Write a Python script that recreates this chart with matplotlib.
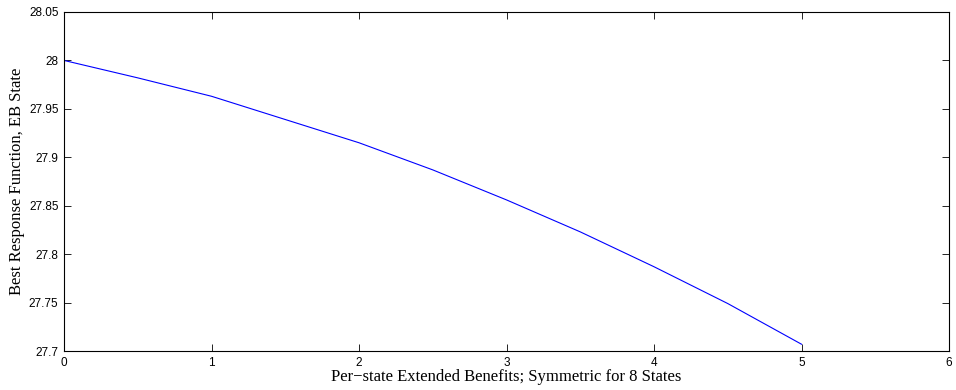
import numpy as np
import matplotlib.pyplot as plt

# benefit level (x) and best response of the EB state (y)
benefits = [0, 0.5, 1, 1.5, 2, 2.5, 3, 3.5, 4, 4.5, 5]
best_response = [28.0, 27.982, 27.963, 27.939, 27.915, 27.887,
                 27.856, 27.823, 27.787, 27.749, 27.707]

x_ticks = [0, 1, 2, 3, 4, 5, 6]
y_ticks = [27.7, 27.75, 27.8, 27.85, 27.9, 27.95, 28.0, 28.05]
y_tick_labels = ['27.7', '27.75', '27.8', '27.85', '27.9', '27.95', '28', '28.05']

fig = plt.figure(figsize=(9.56, 3.9), dpi=100)
ax = fig.add_axes([64 / 956, 1 - 351 / 390, 885 / 956, 339 / 390])

ax.plot(benefits, best_response, color='#0000ff', lw=0.8)

ax.set_xlim(0, 6)
ax.set_ylim(27.7, 28.05)
ax.set_xticks(x_ticks)
ax.set_xticklabels([str(t) for t in x_ticks], family='Liberation Sans', fontsize=8.5)
ax.set_yticks(y_ticks)
ax.set_yticklabels(y_tick_labels, family='Liberation Sans', fontsize=8.5)
ax.tick_params(direction='in', length=5, width=0.6, top=True, right=True, pad=4)
for sp in ax.spines.values():
    sp.set_linewidth(0.8)

ax.set_xlabel('Per\u2212state Extended Benefits; Symmetric for 8 States',
              family='Liberation Serif', fontsize=12, labelpad=0)
ax.set_ylabel('Best Response Function, EB State',
              family='Liberation Serif', fontsize=12, labelpad=3)

fig.savefig('out.png', dpi=100)
